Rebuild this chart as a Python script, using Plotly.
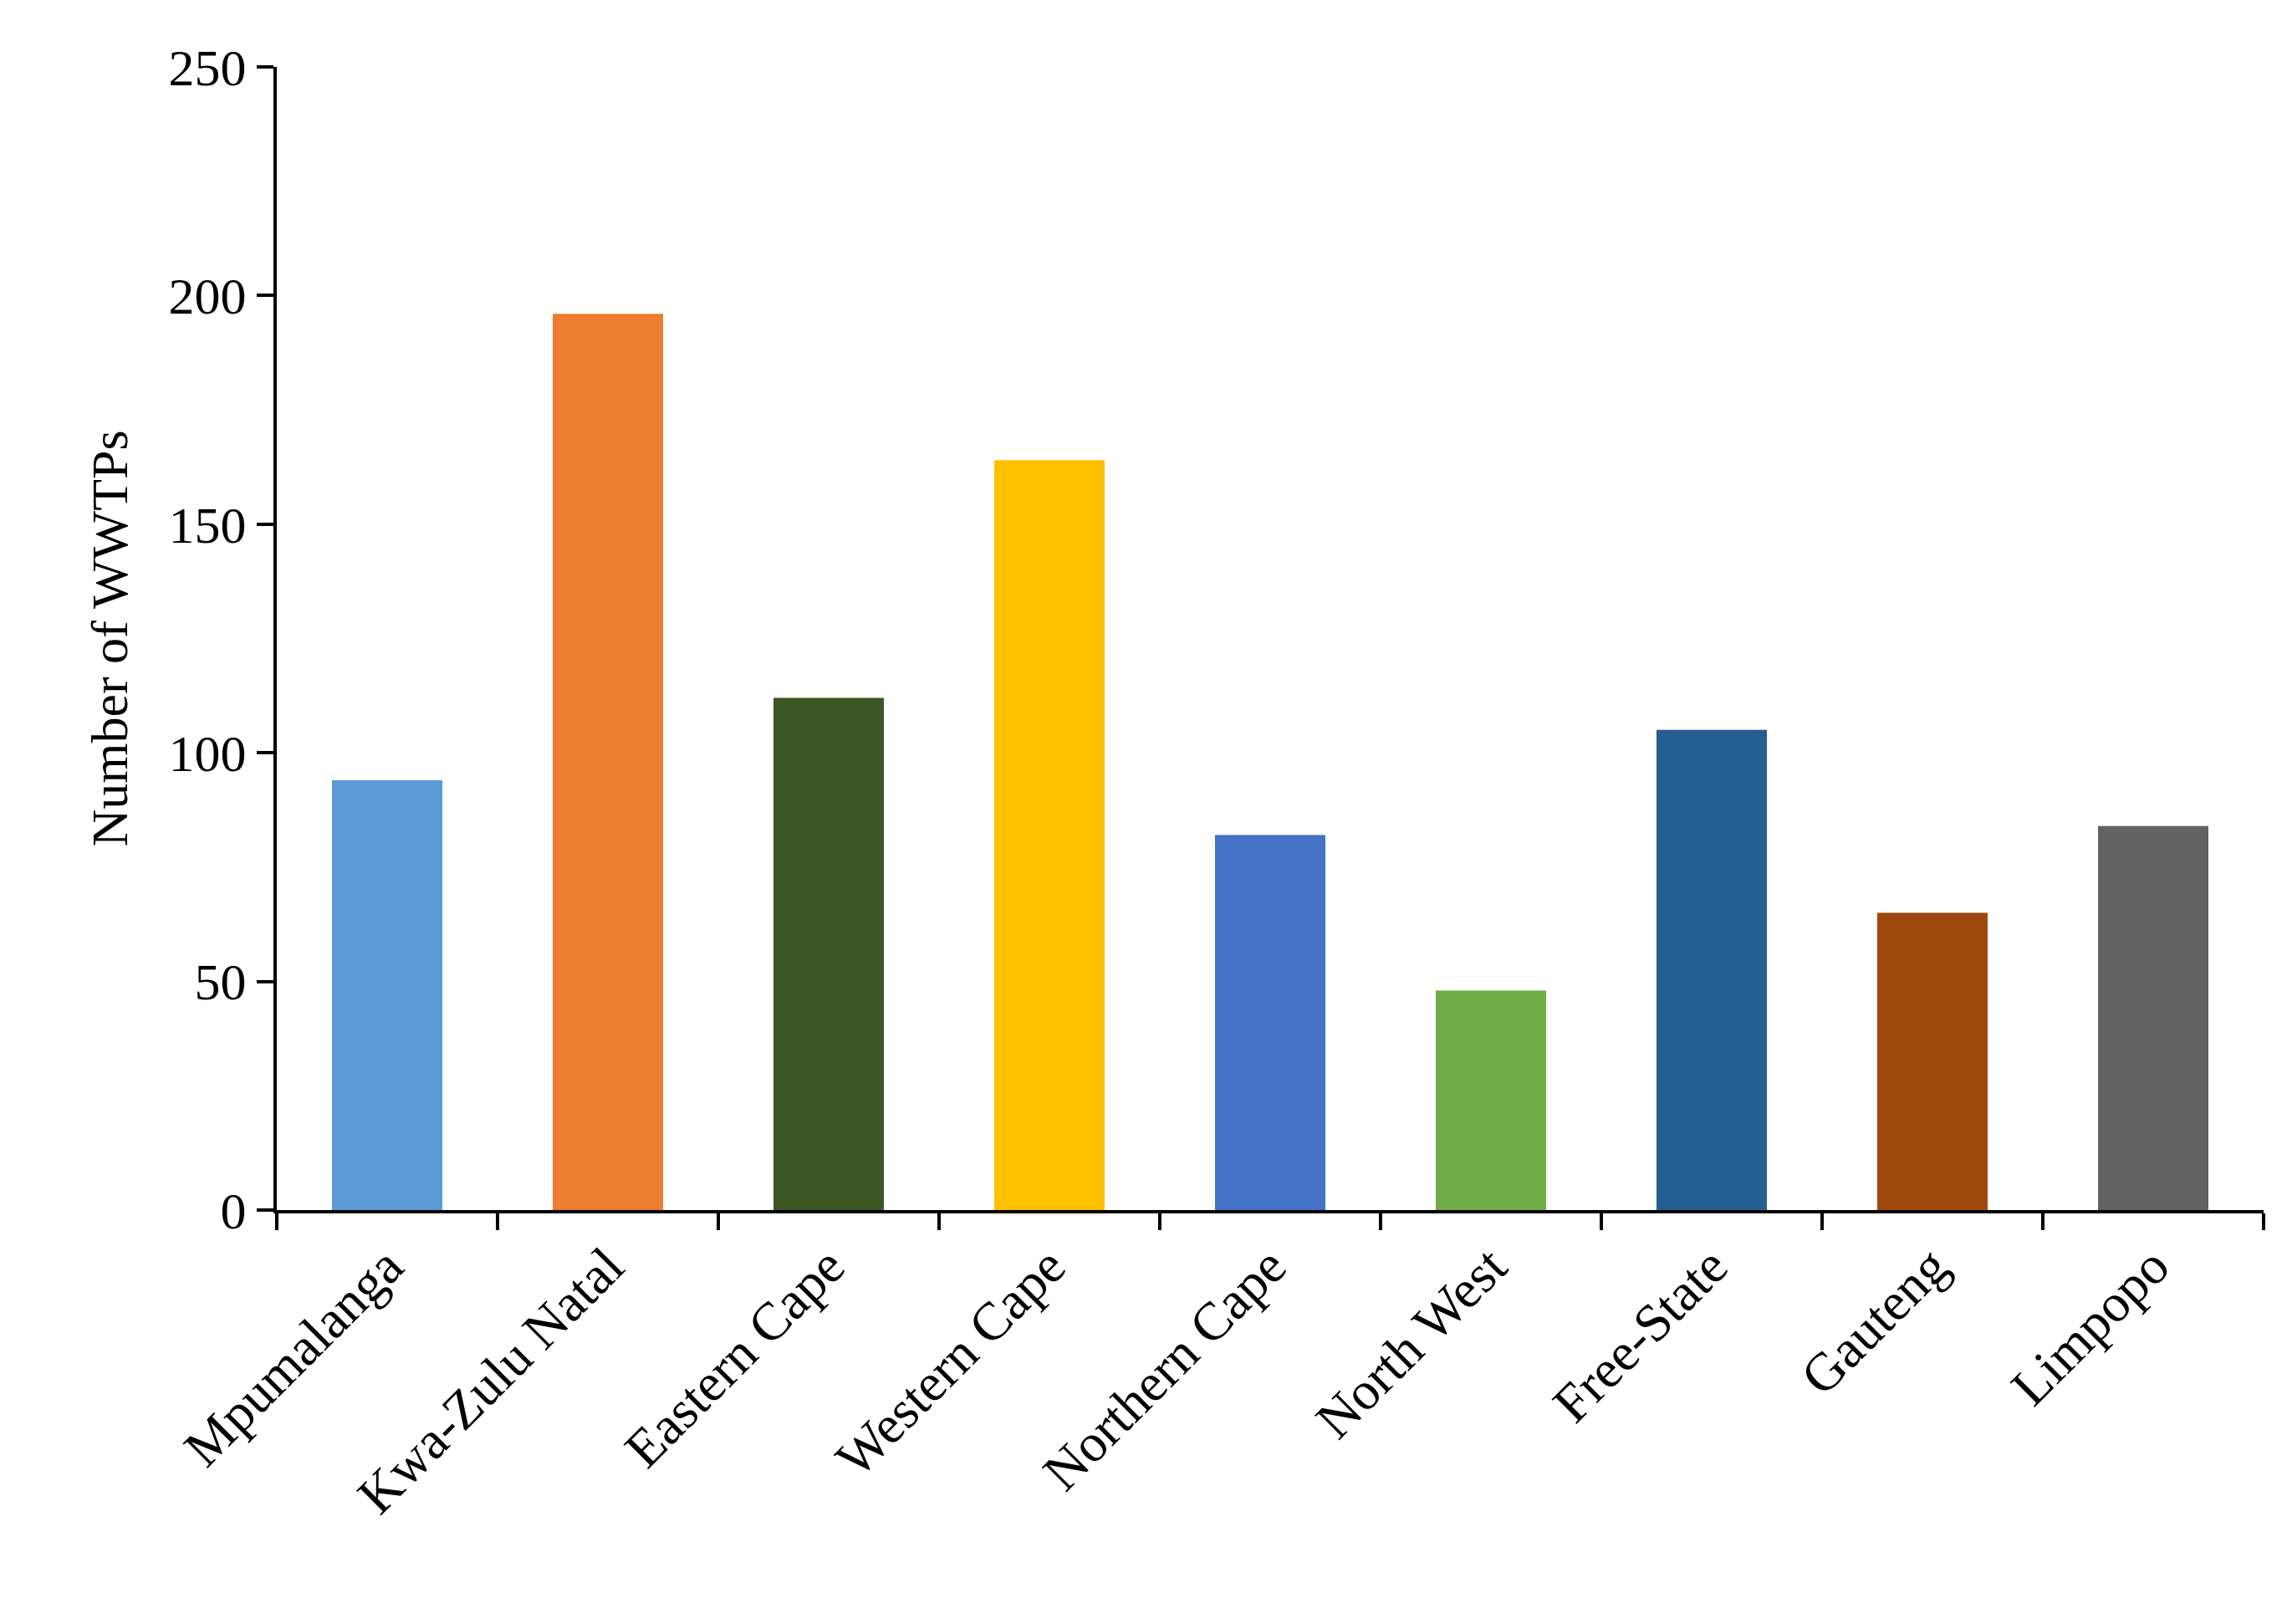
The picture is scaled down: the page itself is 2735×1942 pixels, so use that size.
import plotly.graph_objects as go

categories = ["Mpumalanga", "Kwa-Zulu Natal", "Eastern Cape", "Western Cape", "Northern Cape",
              "North West", "Free-State", "Gauteng", "Limpopo"]
values = [94, 196, 112, 164, 82, 48, 105, 65, 84]
colors = ["#5B9BD5", "#ED7D31", "#3A5724", "#FFC000", "#4472C4", "#70AD47", "#255E91", "#9E480E", "#636363"]
yticks = [0, 50, 100, 150, 200, 250]

font = "Liberation Serif"
fig = go.Figure(go.Bar(x=categories, y=values, marker=dict(color=colors, line=dict(width=0)), width=0.5))
fig.update_layout(
    width=2735, height=1942, plot_bgcolor="white", paper_bgcolor="white",
    margin=dict(l=323, r=36, t=72, b=503), showlegend=False,
    font=dict(family=font, color="black", size=60),
)
fig.update_yaxes(range=[0, 250], tickvals=yticks, showgrid=False, showline=True, linecolor="black",
                 linewidth=4, ticks="outside", ticklen=20, tickwidth=4, tickcolor="black",
                 tickfont=dict(size=62), title=dict(text="Number of WWTPs", font=dict(size=62), standoff=30))
fig.update_xaxes(range=[-0.5, 8.5], showgrid=False, showline=True, linecolor="black", linewidth=4,
                 ticks="outside", ticklen=20, tickwidth=4, tickcolor="black", tickson="boundaries",
                 tickangle=-45, tickfont=dict(size=64))
fig.write_html("out.html")
